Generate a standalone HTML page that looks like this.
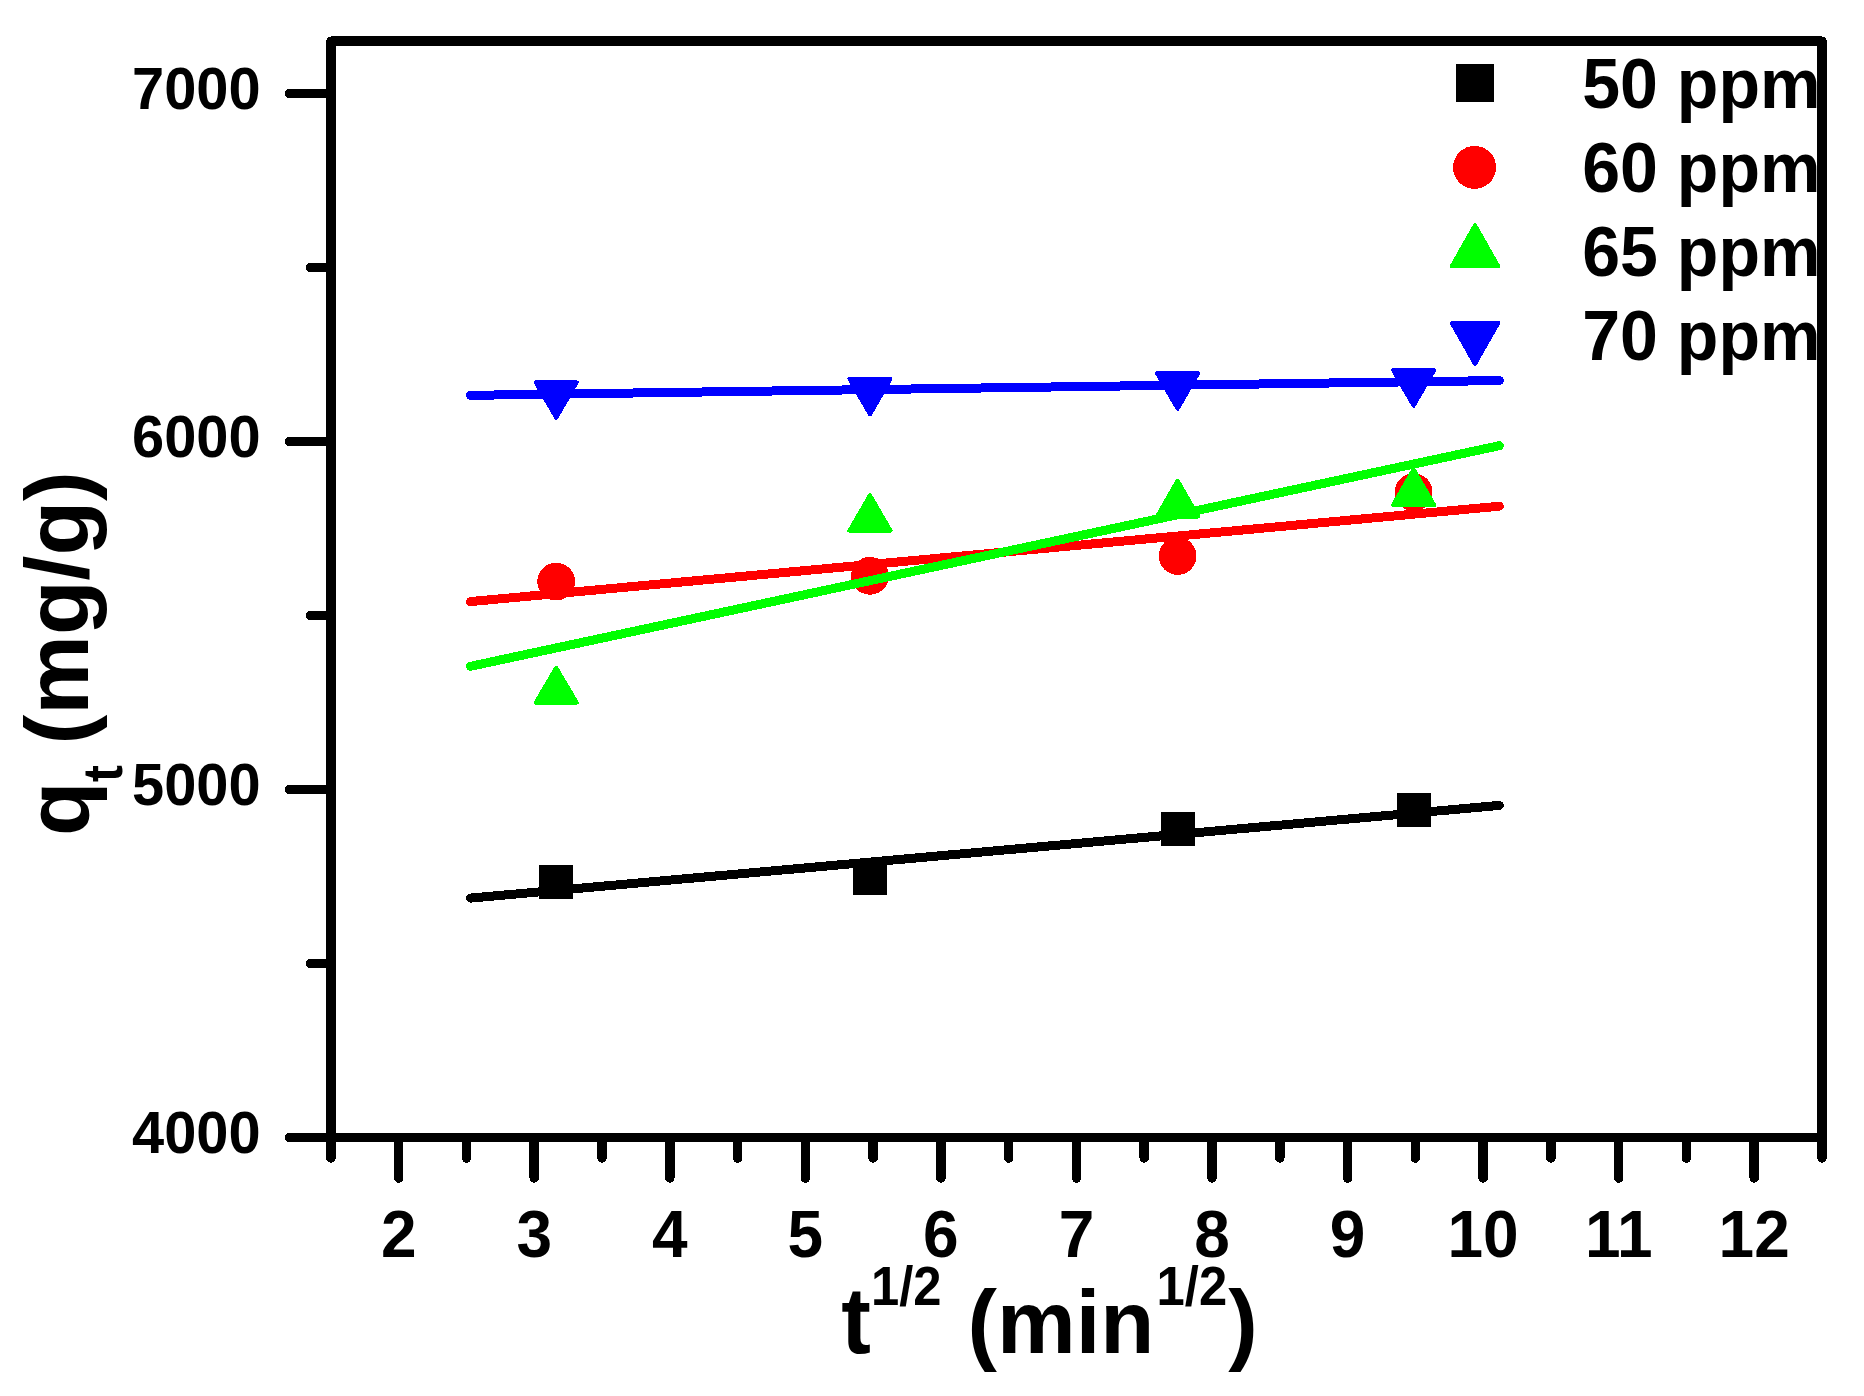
<!DOCTYPE html>
<html lang="en">
<head>
<meta charset="utf-8">
<title>Intraparticle diffusion plot</title>
<style>
html,body{margin:0;padding:0;background:#fff;}
body{width:1864px;height:1396px;overflow:hidden;}
svg{display:block;}
text{font-family:"Liberation Sans",sans-serif;font-weight:bold;fill:#000;}
.ax{stroke:#000;stroke-width:9.5;stroke-linecap:round;stroke-linejoin:round;fill:none;}
.fit{stroke-width:9;stroke-linecap:round;fill:none;}
</style>
</head>
<body>
<svg width="1864" height="1396" viewBox="0 0 1864 1396" shape-rendering="crispEdges">
<rect x="0" y="0" width="1864" height="1396" fill="#ffffff"/>
<g id="markers">
<rect x="539.2" y="864.9" width="34.0" height="34.0" fill="#000000"/>
<rect x="853.0" y="860.8" width="34.0" height="34.0" fill="#000000"/>
<rect x="1160.6" y="811.5" width="34.0" height="34.0" fill="#000000"/>
<rect x="1396.6" y="792.9" width="34.0" height="34.0" fill="#000000"/>
<circle cx="556.2" cy="581.6" r="18.90" fill="#ff0000"/>
<circle cx="870.0" cy="575.8" r="18.90" fill="#ff0000"/>
<circle cx="1177.6" cy="556.0" r="18.90" fill="#ff0000"/>
<circle cx="1413.6" cy="492.2" r="18.90" fill="#ff0000"/>
<polygon points="556.2,667.8 535.6,702.7 576.8,702.7" fill="#00ff00" stroke="#00ff00" stroke-width="4.0" stroke-linejoin="round"/>
<polygon points="870.0,495.2 849.4,530.7 890.6,530.7" fill="#00ff00" stroke="#00ff00" stroke-width="4.0" stroke-linejoin="round"/>
<polygon points="1177.6,480.6 1157.0,516.5 1198.2,516.5" fill="#00ff00" stroke="#00ff00" stroke-width="4.0" stroke-linejoin="round"/>
<polygon points="1413.6,469.3 1393.0,505.1 1434.2,505.1" fill="#00ff00" stroke="#00ff00" stroke-width="4.0" stroke-linejoin="round"/>
<polygon points="556.2,417.7 535.6,382.3 576.8,382.3" fill="#0000ff" stroke="#0000ff" stroke-width="4.0" stroke-linejoin="round"/>
<polygon points="870.0,414.3 849.4,378.9 890.6,378.9" fill="#0000ff" stroke="#0000ff" stroke-width="4.0" stroke-linejoin="round"/>
<polygon points="1177.6,408.7 1157.0,373.3 1198.2,373.3" fill="#0000ff" stroke="#0000ff" stroke-width="4.0" stroke-linejoin="round"/>
<polygon points="1413.6,405.7 1393.0,370.1 1434.2,370.1" fill="#0000ff" stroke="#0000ff" stroke-width="4.0" stroke-linejoin="round"/>
</g>
<g id="fits">
<line class="fit" x1="470.5" y1="898.09" x2="1499.3" y2="805.41" stroke="#000000"/>
<line class="fit" x1="470.5" y1="601.58" x2="1499.3" y2="506.22" stroke="#ff0000"/>
<line class="fit" x1="470.5" y1="666.33" x2="1499.3" y2="445.67" stroke="#00ff00"/>
<line class="fit" x1="470.5" y1="395.34" x2="1499.3" y2="380.56" stroke="#0000ff"/>
</g>
<g id="axes">
<rect class="ax" x="331.0" y="41.2" width="1491.0" height="1096.3"/>
<path class="ax" d="M331.0 93.4H289.5M331.0 441.4H289.5M331.0 789.4H289.5M331.0 1137.4H289.5M331.0 267.4H310.6M331.0 615.4H310.6M331.0 963.4H310.6M398.7 1137.5V1178.0M534.2 1137.5V1178.0M669.8 1137.5V1178.0M805.4 1137.5V1178.0M940.9 1137.5V1178.0M1076.5 1137.5V1178.0M1212.0 1137.5V1178.0M1347.6 1137.5V1178.0M1483.1 1137.5V1178.0M1618.7 1137.5V1178.0M1754.2 1137.5V1178.0M330.9 1137.5V1158.0M466.5 1137.5V1158.0M602.0 1137.5V1158.0M737.6 1137.5V1158.0M873.1 1137.5V1158.0M1008.7 1137.5V1158.0M1144.2 1137.5V1158.0M1279.8 1137.5V1158.0M1415.3 1137.5V1158.0M1550.9 1137.5V1158.0M1686.4 1137.5V1158.0M1822.0 1137.5V1158.0"/>
</g>
<g id="ylabels">
<text transform="translate(260.6,109.0) scale(1,1.030)" font-size="57.8" text-anchor="end">7000</text>
<text transform="translate(260.6,457.0) scale(1,1.030)" font-size="57.8" text-anchor="end">6000</text>
<text transform="translate(260.6,805.0) scale(1,1.030)" font-size="57.8" text-anchor="end">5000</text>
<text transform="translate(260.6,1153.0) scale(1,1.030)" font-size="57.8" text-anchor="end">4000</text>
</g>
<g id="xlabels">
<text transform="translate(398.7,1257.3) scale(1,1.045)" font-size="64.0" text-anchor="middle">2</text>
<text transform="translate(534.2,1257.3) scale(1,1.045)" font-size="64.0" text-anchor="middle">3</text>
<text transform="translate(669.8,1257.3) scale(1,1.045)" font-size="64.0" text-anchor="middle">4</text>
<text transform="translate(805.4,1257.3) scale(1,1.045)" font-size="64.0" text-anchor="middle">5</text>
<text transform="translate(940.9,1257.3) scale(1,1.045)" font-size="64.0" text-anchor="middle">6</text>
<text transform="translate(1076.5,1257.3) scale(1,1.045)" font-size="64.0" text-anchor="middle">7</text>
<text transform="translate(1212.0,1257.3) scale(1,1.045)" font-size="64.0" text-anchor="middle">8</text>
<text transform="translate(1347.6,1257.3) scale(1,1.045)" font-size="64.0" text-anchor="middle">9</text>
<text transform="translate(1483.1,1257.3) scale(1,1.045)" font-size="64.0" text-anchor="middle">10</text>
<text transform="translate(1618.7,1257.3) scale(1,1.045)" font-size="64.0" text-anchor="middle">11</text>
<text transform="translate(1754.2,1257.3) scale(1,1.045)" font-size="64.0" text-anchor="middle">12</text>
</g>
<g id="xtitle">
<text transform="translate(841.3,1353.0) scale(1,1.060)" font-size="89.0">t</text>
<text transform="translate(871.0,1304.8) scale(1,1.085)" font-size="50.8">1/2</text>
<text transform="translate(967.5,1352.6)" font-size="88.5">(min</text>
<text transform="translate(1156.6,1304.8) scale(1,1.085)" font-size="50.8">1/2</text>
<text transform="translate(1228.2,1352.6)" font-size="88.5">)</text>
</g>
<g id="ytitle">
<text transform="translate(88.4,836.0) rotate(-90)" font-size="89.0">q</text>
<text transform="translate(122.0,782.0) rotate(-90) scale(1,1.080)" font-size="50.8">t</text>
<text transform="translate(88.4,744.5) rotate(-90)" font-size="89.5">(mg/g)</text>
</g>
<g id="legend">
<rect x="1455.9" y="64.0" width="38.0" height="38.0" fill="#000000"/>
<circle cx="1474.6" cy="167.4" r="21.50" fill="#ff0000"/>
<polygon points="1475.0,225.3 1451.8,266.1 1498.2,266.1" fill="#00ff00" stroke="#00ff00" stroke-width="4.0" stroke-linejoin="round"/>
<polygon points="1475.0,363.9 1451.8,323.0 1498.2,323.0" fill="#0000ff" stroke="#0000ff" stroke-width="4.0" stroke-linejoin="round"/>
<text transform="translate(1582.2,107.7) scale(1,1.025)" font-size="68.1">50 ppm</text>
<text transform="translate(1582.2,191.7) scale(1,1.025)" font-size="68.1">60 ppm</text>
<text transform="translate(1582.2,275.7) scale(1,1.025)" font-size="68.1">65 ppm</text>
<text transform="translate(1582.2,359.7) scale(1,1.025)" font-size="68.1">70 ppm</text>
</g>
</svg>
</body>
</html>
